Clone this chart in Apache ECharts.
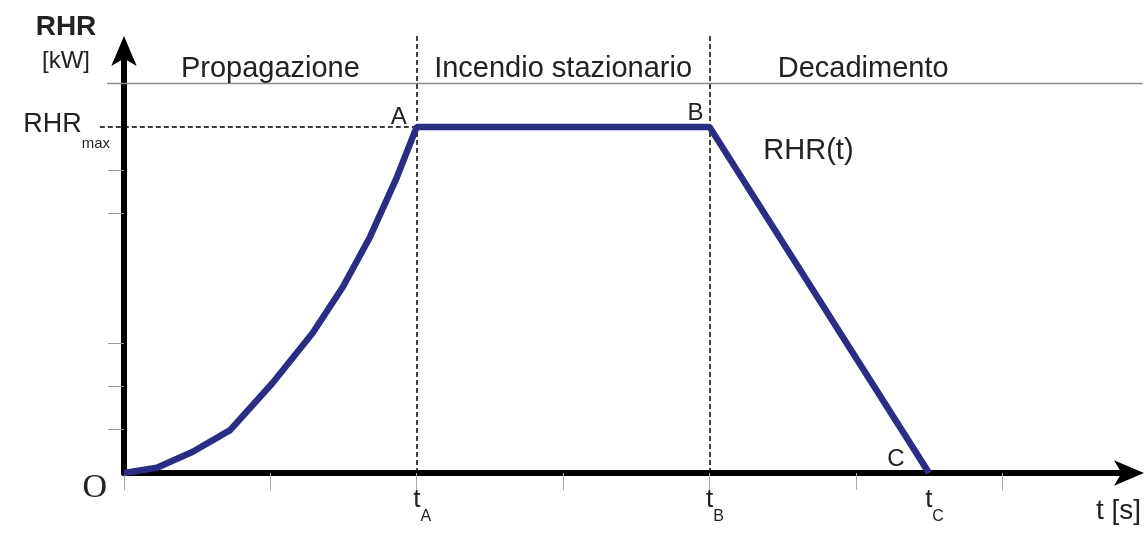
<!DOCTYPE html>
<html>
<head>
<meta charset="utf-8">
<script src="https://cdn.jsdelivr.net/npm/echarts@6/dist/echarts.min.js"></script>
<style>html,body{margin:0;padding:0;background:#fff;}#c{width:1144px;height:533px;}</style>
</head>
<body>
<div id="c"></div>
<script>
// ---- data (x in tick units, y in RHR tick units) ----
const times = [0, 0.45, 0.94, 1.45, 2.03, 2.58, 2.99, 3.36, 3.73, 4, 8, 11];
const rhr   = [0, 0.12, 0.49, 0.99, 2.08, 3.24, 4.3, 5.45, 6.84, 8, 8, 0];
const pointNames = ['', '', '', '', '', '', '', '', '', 'A', 'B', 'C'];
const rhrMax = 8;
const tA = 4, tB = 8, tC = 11;
const xTickValues = [0, 2, 4, 6, 8, 10, 12];
const yTickValues = [1, 2, 3, 6, 7];
const xLabelValues = [tA, tB, tC];
const xLabelSubs = ['A', 'B', 'C'];
const phaseNames = ['Propagazione', 'Incendio stazionario', 'Decadimento'];
const phaseStart = [0, tA, tB];
const phaseEnd = [tA, tB, 12.2];
const headerLineLevel = 9;
const guideTop = 10.12;
const guideLeft = -0.33;
const ruleLeft = -0.23, ruleRight = 13.92;

// ---- styles ----
const FONT = 'Liberation Sans';
const TXT = '#222';
const CURVE = '#2b2d84';
const labelOffsets = { A: [-18, -10], B: [-14, -14], C: [-33, -14] };

const seriesData = times.map((t, i) => {
  const item = { value: [t, rhr[i]] };
  const nm = pointNames[i];
  if (nm) item.label = { show: true, offset: labelOffsets[nm] };
  return item;
});

const dashed = { color: '#000', width: 1.5, type: [5, 3], opacity: 1, curveness: 0 };
function guides(segments, lineStyle) {
  return { type: 'lines', coordinateSystem: 'cartesian2d', polyline: false, clip: false, silent: true,
           symbol: ['none', 'none'], effect: { show: false }, lineStyle: lineStyle, z: 1,
           data: segments.map(s => ({ coords: s })) };
}

const chart = echarts.init(document.getElementById('c'), null, { renderer: 'canvas' });
chart.setOption({
  animation: false,
  backgroundColor: '#fff',
  textStyle: { fontFamily: FONT, color: TXT },
  grid: { left: 124, right: 12, top: 49, bottom: 60, containLabel: false },
  xAxis: {
    type: 'value', min: 0, max: 13.76,
    splitLine: { show: false },
    axisLine: { show: true, lineStyle: { color: '#000', width: 6 }, symbol: ['none', 'arrow'], symbolSize: [19, 30], symbolOffset: [0, 13] },
    axisTick: { show: true, customValues: xTickValues, length: 17, lineStyle: { color: '#aaa', width: 1 } },
    axisLabel: {
      show: true, customValues: xLabelValues, margin: 14,
      formatter: v => '{t|t}{s|' + xLabelSubs[xLabelValues.indexOf(v)] + '}',
      rich: {
        t: { fontSize: 26, fontFamily: FONT, color: TXT, padding: [0, 0, 0, 11], verticalAlign: 'top' },
        s: { fontSize: 16, fontFamily: FONT, color: TXT, padding: [21.5, 0, 0, 0], verticalAlign: 'top' }
      }
    },
    name: '{n|t [s]}', nameLocation: 'end', nameGap: 10,
    nameTextStyle: {
      align: 'right', verticalAlign: 'middle',
      rich: { n: { fontSize: 28, fontFamily: FONT, color: TXT, padding: [76, 0, 0, 0] } }
    }
  },
  yAxis: {
    type: 'value', min: 0, max: 9.8,
    splitLine: { show: false },
    axisLine: { show: true, lineStyle: { color: '#000', width: 6 }, symbol: ['none', 'arrow'], symbolSize: [19, 30], symbolOffset: [0, 13] },
    axisTick: { show: true, customValues: yTickValues, length: 16, lineStyle: { color: '#999', width: 1 } },
    axisLabel: {
      show: true, customValues: [0, rhrMax], margin: 14,
      formatter: v => v === 0 ? '{o|O}' : '{r|RHR}{m|max}',
      rich: {
        o: { fontSize: 34, fontFamily: 'Liberation Serif', color: TXT, padding: [30, 3, 0, 0], verticalAlign: 'top' },
        r: { fontSize: 27, fontFamily: FONT, color: TXT, padding: [9, 0, 0, 0], verticalAlign: 'top' },
        m: { fontSize: 15, fontFamily: FONT, color: TXT, padding: [34, 0, 0, 0], verticalAlign: 'top' }
      }
    },
    name: '{b|RHR}\n{k|[kW]}', nameLocation: 'end', nameGap: 5,
    nameTextStyle: {
      align: 'center', verticalAlign: 'middle', padding: [0, 116, 0, 0],
      rich: {
        b: { fontSize: 28, fontWeight: 'bold', fontFamily: FONT, color: TXT, lineHeight: 34 },
        k: { fontSize: 24, fontFamily: FONT, color: TXT, lineHeight: 34 }
      }
    }
  },
  series: [
    guides([[[tA, 0], [tA, guideTop]], [[tB, 0], [tB, guideTop]], [[guideLeft, rhrMax], [tA, rhrMax]]], dashed),
    guides([[[ruleLeft, headerLineLevel], [ruleRight, headerLineLevel]]], { color: '#8a8a8a', width: 1.3, type: 'solid', opacity: 1, curveness: 0 }),
    {
      type: 'line',
      data: seriesData,
      symbol: 'circle', symbolSize: 0, showSymbol: true,
      lineStyle: { color: CURVE, width: 6.5 },
      itemStyle: { color: CURVE },
      emphasis: { disabled: true },
      silent: true, z: 3,
      label: {
        show: false, position: 'inside', fontSize: 24, fontFamily: FONT, color: TXT,
        formatter: p => pointNames[p.dataIndex]
      },
      markArea: {
        silent: true,
        itemStyle: { color: 'rgba(0,0,0,0)' },
        label: { show: true, position: 'inside', fontSize: 29, fontFamily: FONT, color: TXT },
        data: phaseNames.map((n, i) => [
          { name: n, coord: [phaseStart[i], headerLineLevel] },
          { coord: [phaseEnd[i], headerLineLevel + 0.66] }
        ])
      },
      markPoint: {
        silent: true, symbol: 'circle', symbolSize: 0,
        label: { show: true, position: 'inside', fontSize: 29, fontFamily: FONT, color: TXT, offset: [99, 24], formatter: 'RHR(t)' },
        data: [{ coord: [tB, rhrMax] }]
      }
    }
  ]
});
</script>
</body>
</html>
